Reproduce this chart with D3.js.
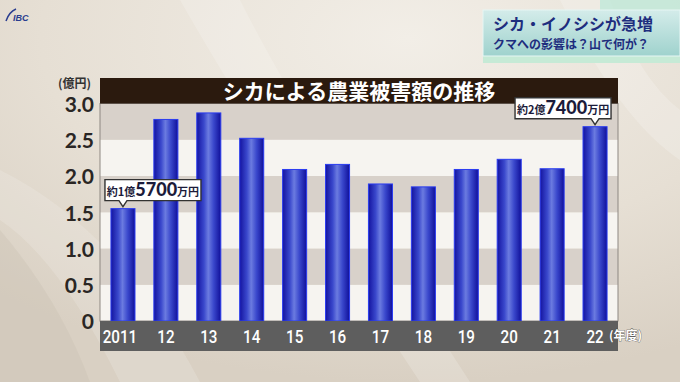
<!DOCTYPE html>
<html><head><meta charset="utf-8">
<script src="https://cdn.jsdelivr.net/npm/d3@7"></script>
<style>
html,body{margin:0;padding:0;background:#e6e0d6;}
svg{display:block;}
</style></head>
<body>
<svg id="chart" width="680" height="382"></svg>
<script>
// ---- data ----
const years = ["2011","12","13","14","15","16","17","18","19","20","21","22"];
const damage = [1.55, 2.78, 2.87, 2.52, 2.09, 2.16, 1.89, 1.85, 2.09, 2.23, 2.10, 2.68]; // 億円
const yTicks = [0, 0.5, 1.0, 1.5, 2.0, 2.5, 3.0];
const title = "シカによる農業被害額の推移";
const yUnit = "(億円)";
const xUnit = "(年度)";
const headline = ["シカ・イノシシが急増", "クマへの影響は？山で何が？"];
const callouts = [
  {year: "2011", parts: ["約1億", "5700", "万円"]},
  {year: "22", parts: ["約2億", "7400", "万円"]}
];

(function(){
const svg = d3.select("#chart");
const W = 680, H = 382;
const jp = "'Noto Sans CJK JP','Noto Sans',sans-serif";

// ---- background ----
const defs = svg.append("defs");
const bg = defs.append("radialGradient").attr("id","bg").attr("cx","0.6").attr("cy","0.1").attr("r","0.9");
bg.append("stop").attr("offset","0").attr("stop-color","#f2eee7");
bg.append("stop").attr("offset","0.6").attr("stop-color","#e6dfd4");
bg.append("stop").attr("offset","1").attr("stop-color","#d9d0c3");
svg.append("rect").attr("width",W).attr("height",H).attr("fill","url(#bg)");
const sw = svg.append("g").attr("fill","#ffffff");
sw.append("path").attr("d","M180,0 Q260,140 420,382 L470,382 Q300,120 240,0 Z").attr("opacity",0.18);
sw.append("path").attr("d","M0,170 Q120,230 200,382 L120,382 Q60,260 0,220 Z").attr("opacity",0.15);
sw.append("path").attr("d","M560,0 Q620,120 680,160 L680,110 Q640,80 610,0 Z").attr("opacity",0.2);
svg.append("path").attr("d","M0,230 Q60,300 90,382 L0,382 Z").attr("fill","#c9bfb1").attr("opacity",0.35);

// ---- logo ----
svg.append("text").attr("x",13).attr("y",21).attr("font-family","'Liberation Sans',sans-serif")
  .attr("font-weight","bold").attr("font-style","italic").attr("font-size",9).attr("fill","#2a3d8f").text("IBC");
svg.append("path").attr("d","M6,21 Q9,12 16,9").attr("stroke","#2a3d8f").attr("stroke-width",1.5).attr("fill","none");

// ---- headline box ----
const hg = defs.append("linearGradient").attr("id","hg").attr("x1",0).attr("y1",0).attr("x2",0).attr("y2",1);
hg.append("stop").attr("offset","0").attr("stop-color","#d4ecea");
hg.append("stop").attr("offset","1").attr("stop-color","#9fd2cd");
svg.append("rect").attr("x",600).attr("y",0).attr("width",80).attr("height",10).attr("fill","#bfe8d8").attr("opacity",0.8);
svg.append("rect").attr("x",483).attr("y",10).attr("width",197).attr("height",53).attr("fill","#c6ead6");
svg.append("rect").attr("x",483).attr("y",10).attr("width",197).attr("height",46).attr("fill","url(#hg)")
  .attr("stroke","#e6f6f4").attr("stroke-width",1);
svg.append("text").attr("x",493).attr("y",30).attr("font-family",jp).attr("font-weight","bold")
  .attr("font-size",16).attr("fill","#1e2d7e").text(headline[0]);
svg.append("text").attr("x",493).attr("y",49).attr("font-family",jp).attr("font-weight","bold")
  .attr("font-size",12).attr("fill","#1e2d7e").text(headline[1]);

// ---- chart geometry ----
const pL = 100, pR = 618, pT = 103.5, base = 321;
const x = d3.scaleBand().domain(years).range([pL, pR]).paddingInner(0.44).paddingOuter(0.255);
const y = d3.scaleLinear().domain([0, 3]).range([base, pT]);

const bands = d3.range(0, 3, 0.5);
svg.append("g").selectAll("rect").data(bands).join("rect")
  .attr("x", pL).attr("width", pR-pL)
  .attr("y", d => y(d+0.5)).attr("height", d => y(d) - y(d+0.5))
  .attr("fill", (d,i) => i % 2 === 0 ? "#f6f4f0" : "#d8d1ca");
svg.append("rect").attr("x",pL).attr("y",pT).attr("width",pR-pL).attr("height",base-pT)
  .attr("fill","none").attr("stroke","#8d8782").attr("stroke-width",1);

// title band
svg.append("rect").attr("x",pL).attr("y",78).attr("width",pR-pL).attr("height",pT-78).attr("fill","#2b1a0e");
svg.append("text").attr("x",(pL+pR)/2).attr("y",99).attr("text-anchor","middle")
  .attr("font-family",jp).attr("font-weight","bold").attr("font-size",21).attr("fill","#ffffff").text(title);

// bars
const bgGrad = defs.append("linearGradient").attr("id","bar").attr("x1",0).attr("x2",1).attr("y1",0).attr("y2",0);
[["0","#1414a0"],["0.3","#3a48cc"],["0.48","#6b7be0"],["0.7","#3a48cc"],["1","#10109a"]]
  .forEach(s => bgGrad.append("stop").attr("offset",s[0]).attr("stop-color",s[1]));
svg.append("g").selectAll("rect").data(years).join("rect")
  .attr("x", d => x(d)).attr("width", x.bandwidth())
  .attr("y", (d,i) => y(damage[i])).attr("height", (d,i) => base - y(damage[i]))
  .attr("fill","url(#bar)").attr("stroke","#2a3cf0").attr("stroke-width",1);

// x axis band
svg.append("rect").attr("x",pL).attr("y",base).attr("width",pR-pL).attr("height",30).attr("fill","#5e5e5e");
const xl = svg.append("g").selectAll("g").data(years).join("g")
  .attr("transform", (d,i) => `translate(${x(d) + x.bandwidth()/2 - (i===0?3:0)},343) scale(0.8,1)`);
xl.append("text").attr("text-anchor","middle").attr("font-family","Roboto,sans-serif").attr("font-weight","500")
  .attr("font-size",19).attr("fill","#ffffff").text(d => d);
svg.append("text").attr("x",609).attr("y",340).attr("font-family",jp).attr("font-weight","bold")
  .attr("font-size",12).attr("fill","#ffffff").attr("stroke","#444").attr("stroke-width",0.6)
  .attr("paint-order","stroke").text(xUnit);

// y axis
const yAxis = d3.axisLeft(y).tickValues(yTicks).tickSize(0).tickPadding(6)
  .tickFormat(d => d === 0 ? "0" : d.toFixed(1));
const ya = svg.append("g").attr("transform",`translate(${pL},0)`).call(yAxis);
ya.select(".domain").remove();
ya.selectAll("text").attr("font-family","Lato,'Liberation Sans',sans-serif").attr("font-weight","bold")
  .attr("font-size",21).attr("fill","#2a2624").attr("dy","0.38em");
svg.append("text").attr("x",58).attr("y",88).attr("font-family",jp).attr("font-weight","bold")
  .attr("font-size",12).attr("fill","#333").text(yUnit);

// callouts
callouts.forEach(c => {
  const i = years.indexOf(c.year);
  const cx = x(c.year) + x.bandwidth()/2;
  const tipY = y(damage[i]) - 2;
  const boxH = 21, boxW = 96;
  const by = tipY - 6 - boxH;
  const bx = c.year === "2011" ? cx - 18 : cx - 80;
  const g = svg.append("g");
  g.append("path")
    .attr("d", `M${bx},${by} H${bx+boxW} V${by+boxH} H${cx+4} L${cx},${tipY} L${cx-4},${by+boxH} H${bx} Z`)
    .attr("fill","#ffffff").attr("stroke","#333").attr("stroke-width",1.4);
  const t = g.append("text").attr("x", bx + boxW/2).attr("y", by + 16.5).attr("text-anchor","middle")
    .attr("font-family",jp).attr("font-weight","bold").attr("fill","#1b1b3a");
  t.append("tspan").attr("font-size",11).text(c.parts[0]);
  t.append("tspan").attr("font-size",18).attr("font-family","Lato,sans-serif").attr("font-weight","900").text(c.parts[1]);
  t.append("tspan").attr("font-size",11).text(c.parts[2]);
});
})();
</script>
</body></html>
